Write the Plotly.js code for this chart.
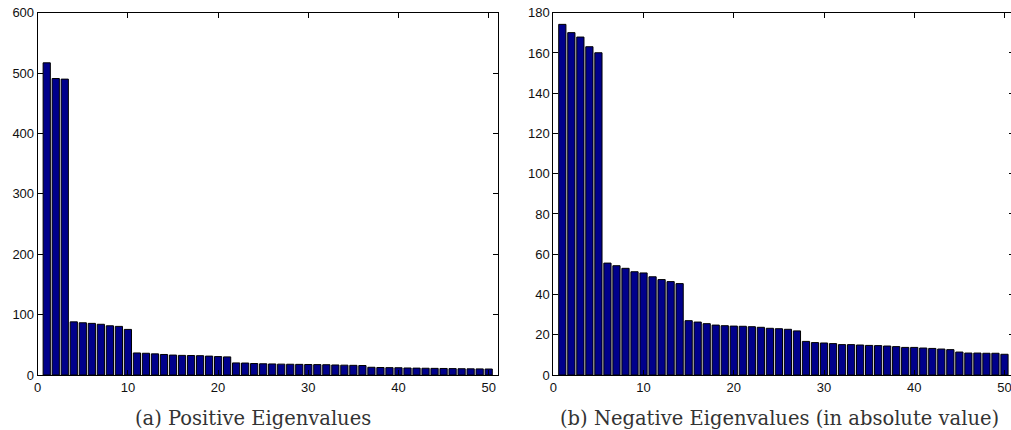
<!DOCTYPE html>
<html>
<head>
<meta charset="utf-8">
<script src="https://cdn.plot.ly/plotly-3.0.1.min.js"></script>
<style>
html, body { margin: 0; padding: 0; overflow: hidden; background: #fff; }
#chart { width: 1014px; height: 430px; }
</style>
</head>
<body>
<div id="chart"></div>
<script>
// Data
const indexLabels = Array.from({length: 50}, (_, i) => i + 1);

const positiveEigenvalues = [
  517, 491, 490, 88, 86.5, 85.5, 84, 81.5, 80.5, 75.5,
  36.5, 36, 35, 34, 33, 32.5, 32.3, 32, 31.3, 30.5,
  30, 20, 19.8, 19, 18.6, 18.3, 18, 17.8, 17.6, 17.4,
  17.2, 17, 16.6, 16.3, 16, 15.7, 12.8, 12.4, 12.2, 12,
  11.6, 11.4, 11.2, 11, 10.8, 10.6, 10.4, 10.2, 10.1, 9.9
];

const negativeEigenvaluesAbs = [
  174.2, 170.1, 167.9, 163.1, 160.1, 55.6, 54.3, 53, 51.3, 50.7,
  48.8, 47.4, 46.4, 45.4, 27, 26.3, 25.5, 24.8, 24.5, 24.3,
  24.2, 24, 23.7, 23.2, 23, 22.7, 21.9, 16.7, 16.1, 15.9,
  15.6, 15.1, 15.1, 14.9, 14.7, 14.6, 14.4, 14.1, 13.7, 13.7,
  13.4, 13.2, 12.9, 12.6, 11.4, 10.9, 10.9, 10.8, 10.8, 10.3
];

const xTicks = [0, 10, 20, 30, 40, 50];
const yTicksLeft = [0, 100, 200, 300, 400, 500, 600];
const yTicksRight = [0, 20, 40, 60, 80, 100, 120, 140, 160, 180];
const captions = ["(a) Positive Eigenvalues", "(b) Negative Eigenvalues (in absolute value)"];

const W = 1014, H = 430;
const barColor = '#00008B';
const tickFont = {family: 'Liberation Sans, Arial, Helvetica, sans-serif', size: 13, color: '#111'};

function axisCommon(extra) {
  return Object.assign({
    showline: true, linecolor: '#000', linewidth: 1, mirror: 'ticks',
    ticks: 'inside', ticklen: 5, tickcolor: '#000', tickwidth: 1,
    showgrid: false, zeroline: false, tickfont: tickFont,
    fixedrange: true
  }, extra);
}

const traces = [
  {
    type: 'bar', x: indexLabels, y: positiveEigenvalues,
    xaxis: 'x', yaxis: 'y', width: 0.8,
    marker: {color: barColor, line: {color: '#000', width: 1}},
    hoverinfo: 'skip'
  },
  {
    type: 'bar', x: indexLabels, y: negativeEigenvaluesAbs,
    xaxis: 'x2', yaxis: 'y2', width: 0.8,
    marker: {color: barColor, line: {color: '#000', width: 1}},
    hoverinfo: 'skip'
  }
];

const yBottom = 1 - 375 / H, yTop = 1 - 12.7 / H;

const layout = {
  width: W, height: H,
  margin: {l: 0, r: 0, t: 0, b: 0},
  paper_bgcolor: '#fff', plot_bgcolor: '#fff',
  showlegend: false,
  xaxis: axisCommon({domain: [37.7 / W, 497.7 / W], range: [0, 51], tickvals: xTicks, anchor: 'y'}),
  yaxis: axisCommon({domain: [yBottom, yTop], range: [0, 600], tickvals: yTicksLeft, anchor: 'x'}),
  xaxis2: axisCommon({domain: [553.3 / W, 1013.5 / W], range: [0, 51], tickvals: xTicks, anchor: 'y2'}),
  yaxis2: axisCommon({domain: [yBottom, yTop], range: [0, 180], tickvals: yTicksRight, anchor: 'x2'}),
  annotations: [
    {text: captions[0], xref: 'paper', yref: 'paper', x: 253 / W, y: 1 - 418 / H,
     xanchor: 'center', yanchor: 'middle', showarrow: false,
     font: {family: 'DejaVu Serif, Liberation Serif, serif', size: 19.5, color: '#333'}},
    {text: captions[1], xref: 'paper', yref: 'paper', x: 779 / W, y: 1 - 418 / H,
     xanchor: 'center', yanchor: 'middle', showarrow: false,
     font: {family: 'DejaVu Serif, Liberation Serif, serif', size: 19.5, color: '#333'}}
  ]
};

Plotly.newPlot('chart', traces, layout, {staticPlot: true, displayModeBar: false});
</script>
</body>
</html>
